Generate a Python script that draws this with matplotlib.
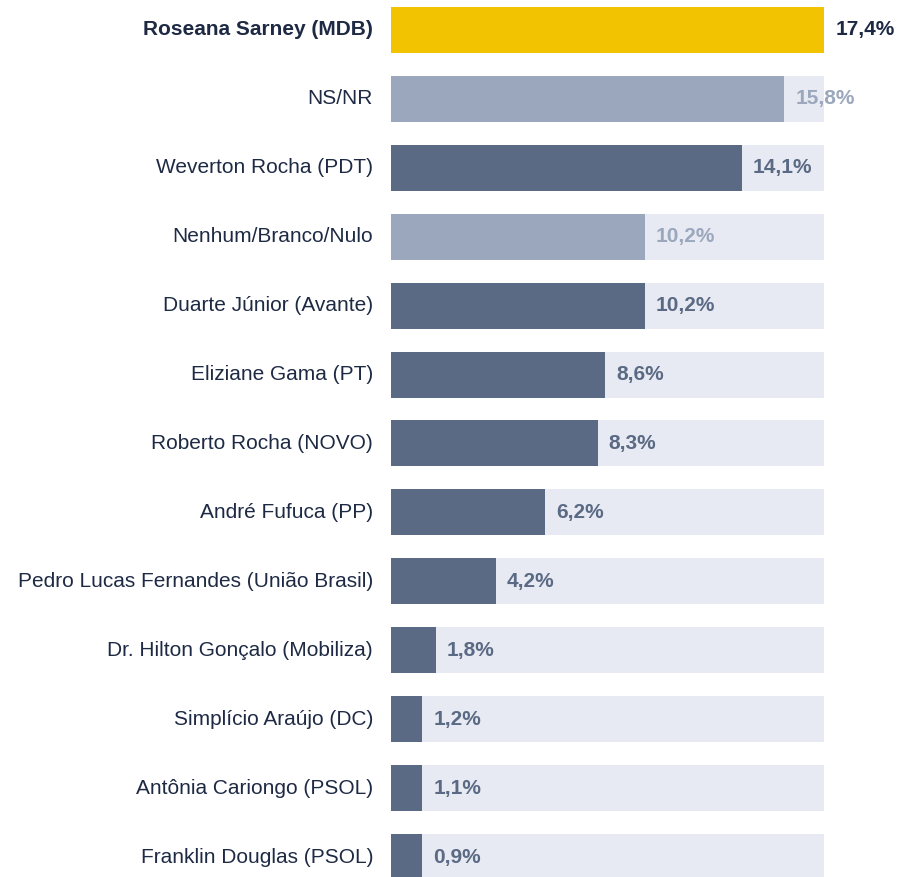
import matplotlib
matplotlib.use("Agg")
import matplotlib.pyplot as plt

plt.rcParams["font.family"] = ["Liberation Sans", "DejaVu Sans"]

candidates = [
    "Roseana Sarney (MDB)",
    "NS/NR",
    "Weverton Rocha (PDT)",
    "Nenhum/Branco/Nulo",
    "Duarte Júnior (Avante)",
    "Eliziane Gama (PT)",
    "Roberto Rocha (NOVO)",
    "André Fufuca (PP)",
    "Pedro Lucas Fernandes (União Brasil)",
    "Dr. Hilton Gonçalo (Mobiliza)",
    "Simplício Araújo (DC)",
    "Antônia Cariongo (PSOL)",
    "Franklin Douglas (PSOL)",
]
values = [17.4, 15.8, 14.1, 10.2, 10.2, 8.6, 8.3, 6.2, 4.2, 1.8, 1.2, 1.1, 0.9]
kind = ["lead", "other", "cand", "other", "cand", "cand", "cand", "cand",
        "cand", "cand", "cand", "cand", "cand"]

bar_colors = {"lead": "#f2c300", "cand": "#5b6a84", "other": "#9ba7bd"}
text_colors = {"lead": "#1e2a44", "cand": "#5b6a84", "other": "#9ba7bd"}
track_color = "#e7eaf2"
label_color = "#1e2a44"
min_width = 1.25  # tiny bars keep a visible stub

fig = plt.figure(figsize=(9.01, 8.77), dpi=100)
ax = fig.add_axes([391 / 901, 0, 433 / 901, 870 / 877])

vmax = max(values)
ys = list(range(len(values)))
ax.barh(ys, [vmax] * len(values), height=0.667, color=track_color, zorder=1)
shown = [max(v, min_width) for v in values]
ax.barh(ys, shown, height=0.667,
        color=[bar_colors[k] for k in kind], zorder=2)

for y, v, s, k, name in zip(ys, values, shown, kind, candidates):
    weight = "bold" if k == "lead" else "normal"
    ax.text(-0.72, y, name, ha="right", va="center", fontsize=15,
            color=label_color, fontweight=weight, clip_on=False)
    ax.text(s + 0.45, y, f"{v:.1f}%".replace(".", ","), ha="left", va="center",
            fontsize=15, fontweight="bold", color=text_colors[k], clip_on=False,
            zorder=3)

ax.set_xlim(0, vmax)
ax.set_ylim(12.29, -0.333)
ax.axis("off")

fig.savefig("out.png", dpi=100)
